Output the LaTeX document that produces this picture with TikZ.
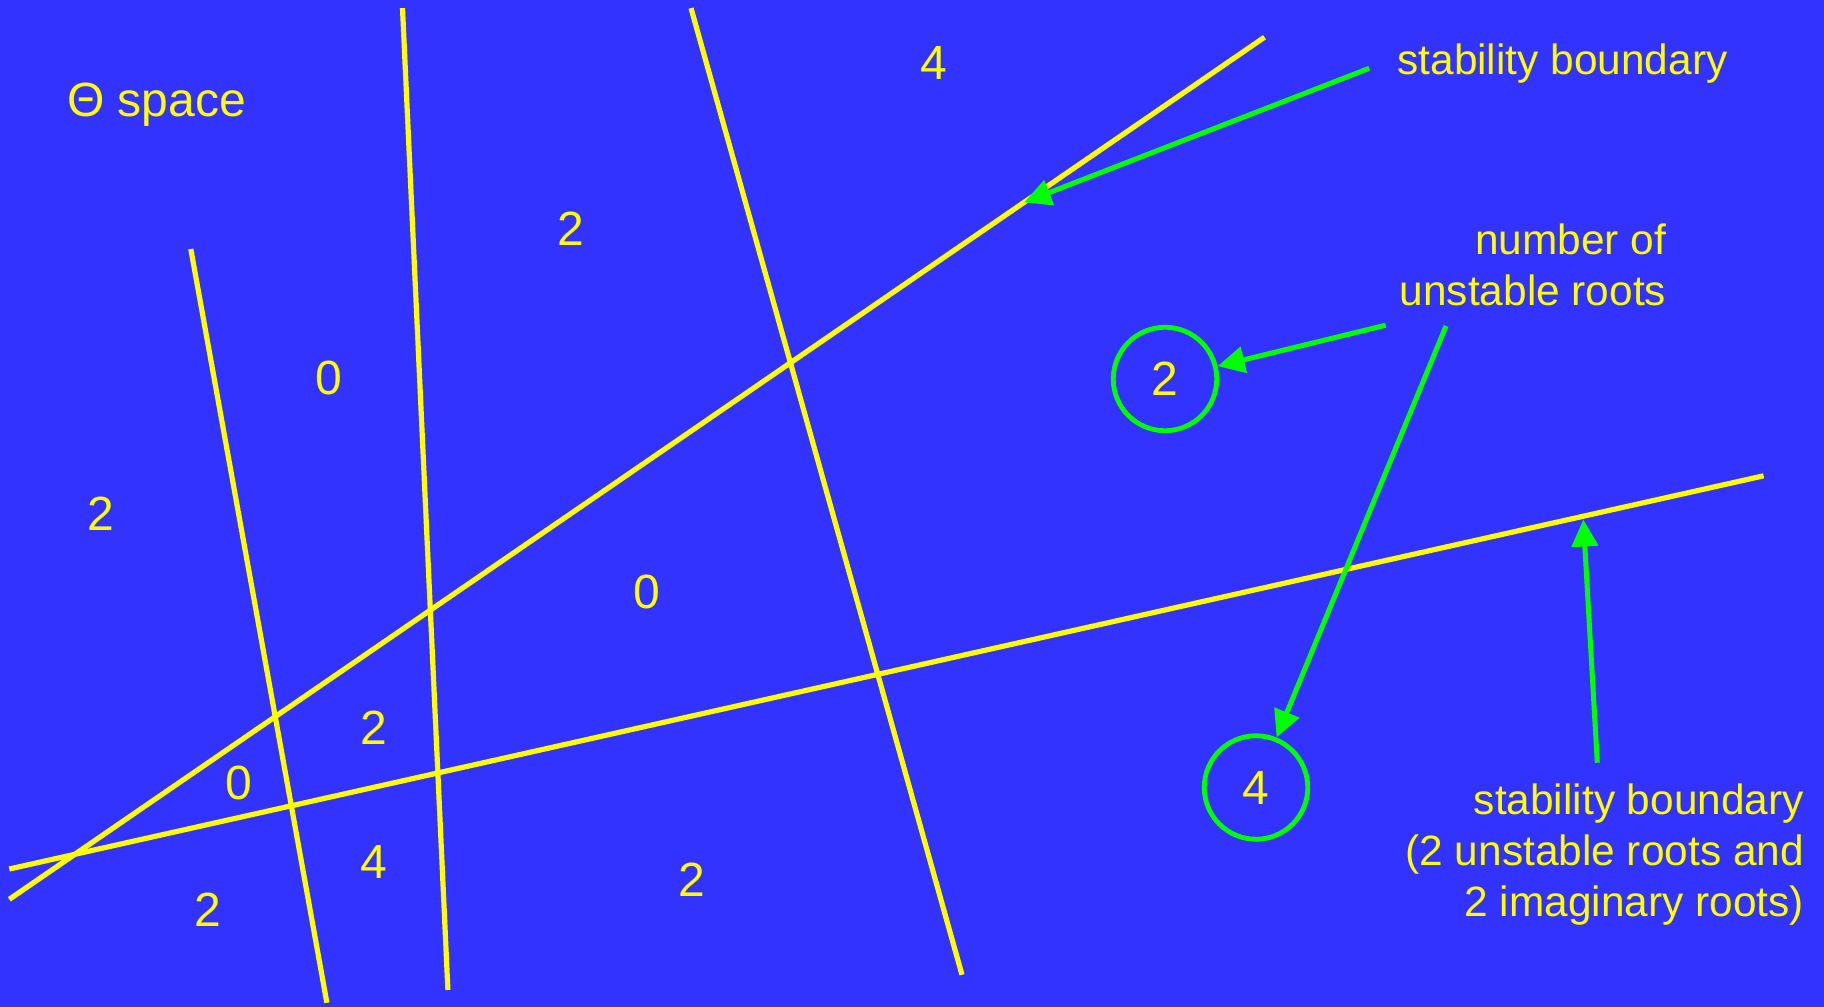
\documentclass[tikz,border=0pt]{standalone}
\usepackage{fontspec}
\setmainfont{Liberation Sans}
\usetikzlibrary{arrows.meta}
\definecolor{bgblue}{RGB}{51,51,255}
\definecolor{ylw}{RGB}{255,255,0}
\definecolor{grn}{RGB}{0,255,0}
\begin{document}
\begin{tikzpicture}[x=1pt,y=-1pt,
  bound/.style={draw=ylw, line width=5.2pt},
  pointer/.style={draw=grn, line width=5pt, -{Triangle[length=27pt,width=26pt]}},
  num/.style={text=ylw, inner sep=0pt, font=\fontsize{48}{58}\selectfont},
  note/.style={text=ylw, inner sep=0pt, font=\fontsize{42.4}{50.8}\selectfont, align=right},
  ring/.style={draw=grn, line width=4.8pt, circle, minimum size=103.5pt, inner sep=0pt,
    text=ylw, font=\fontsize{48}{58}\selectfont}]
\fill[bgblue] (0,0) rectangle (1824,1007);
\useasboundingbox (0,0) rectangle (1824,1007);

% stability boundaries
\coordinate (a1) at (9.3,899.3);   \coordinate (a2) at (1264.5,37.2);
\coordinate (b1) at (9.3,869);     \coordinate (b2) at (1763.6,475.8);
\coordinate (c1) at (190.8,249);   \coordinate (c2) at (326.9,1002.8);
\coordinate (d1) at (402.5,8.1);   \coordinate (d2) at (447.9,990);
\coordinate (e1) at (691,8.1);     \coordinate (e2) at (962,974.8);
\draw[bound] (a1) -- (a2);
\draw[bound] (b1) -- (b2);
\draw[bound] (c1) -- (c2);
\draw[bound] (d1) -- (d2);
\draw[bound] (e1) -- (e2);

% region counts
\node[num] (n1) at (934,62.8) {4};
\node[num] (n2) at (571,228.5) {2};
\node[num] (n3) at (329.2,378) {0};
\node[num] (n4) at (101.2,514.2) {2};
\node[num] (n5) at (646.8,592.1) {0};
\node[num] (n6) at (373.8,728) {2};
\node[num] (n7) at (238.8,782.6) {0};
\node[num] (n8) at (373.8,861.5) {4};
\node[num] (n9) at (692.2,879.5) {2};
\node[num] (n10) at (208.2,909.7) {2};

\node[text=ylw, inner sep=0pt, anchor=base west, font=\fontsize{48}{58}\selectfont] (theta) at (67,116.7) {Θ space};

% circled examples
\node[ring] (r2) at (1165,379) {2};
\node[ring] (r4) at (1256,787.5) {4};

% annotations
\node[note, anchor=base east] (sb1) at (1727.6,74) {stability boundary};
\node[note, anchor=north east] (nu) at (1666.3,224) {number of\\unstable roots};
\node[note, anchor=north east] (sb2) at (1804,784) {stability boundary\\(2 unstable roots and\\2 imaginary roots)};

% pointers
\coordinate (p1s) at (1369.2,68.3);
\coordinate (p1t) at (1024,202.4);
\coordinate (p2s) at (1385.7,325.2);
\coordinate (p3s) at (1446,326);
\coordinate (p4s) at (1597.3,762.7);
\coordinate (p4t) at (1583.3,519.5);
\draw[pointer] (p1s) -- (p1t);
\draw[pointer] (p2s) -- (r2);
\draw[pointer] (p3s) -- (r4);
\draw[pointer] (p4s) -- (p4t);
\end{tikzpicture}
\end{document}
